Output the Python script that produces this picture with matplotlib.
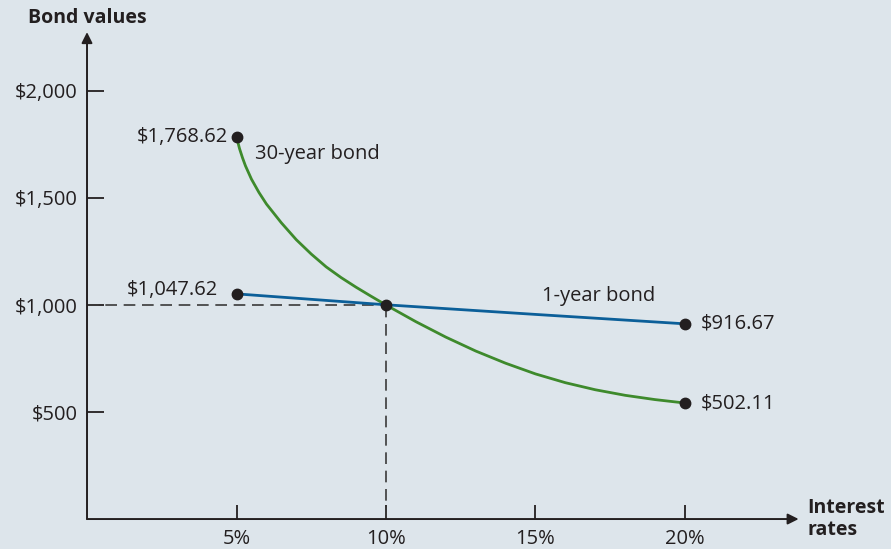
import matplotlib.pyplot as plt

# interest rates (%) and bond values
rates_30y = [5.0, 5.1, 5.2, 5.3, 5.5, 5.75, 6.0, 6.5, 7.0, 7.5,
             8.0, 8.5, 9.0, 9.5, 10.0, 11.0, 12.0, 13.0, 14.0, 15.0, 16.0,
             17.0, 18.0, 19.0, 20.0]
values_30y = [1786, 1731, 1688, 1650, 1588, 1526, 1472, 1384, 1305, 1238,
              1178, 1128, 1083, 1041, 1000, 922, 850, 785, 728, 678, 637,
              604, 578, 558, 542]
rates_1y = [5.0, 10.0, 15.0, 20.0]
values_1y = [1052, 1001, 956, 912]

par_rate = 10.0
par_value = 1000

x_ticks = [5, 10, 15, 20]
x_tick_labels = ["5%", "10%", "15%", "20%"]
y_ticks = [500, 1000, 1500, 2000]
y_tick_labels = ["$500", "$1,000", "$1,500", "$2,000"]

label_30y_start = "$1,768.62"
label_30y_end = "$502.11"
label_1y_start = "$1,047.62"
label_1y_end = "$916.67"

BG = "#dde5eb"
INK = "#231f20"
GREEN = "#3e8a2c"
BLUE = "#0b5f99"
FS = 14.5

plt.rcParams["font.family"] = ["Open Sans", "DejaVu Sans"]

fig = plt.figure(figsize=(8.91, 5.49), dpi=100, facecolor=BG)
ax = fig.add_axes([0, 0, 1, 1], facecolor=BG)
ax.set_xlim(-2.91, 26.89)
ax.set_ylim(-140, 2425)

for side in ["top", "right"]:
    ax.spines[side].set_visible(False)
for side in ["left", "bottom"]:
    ax.spines[side].set_position(("data", 0))
    ax.spines[side].set_color("none")

# axes drawn as arrows
arrow = dict(arrowstyle="-|>", color=INK, lw=1.4, mutation_scale=16,
             shrinkA=0, shrinkB=0)
ax.annotate("", xy=(23.8, 0), xytext=(0, 0), arrowprops=arrow)
ax.annotate("", xy=(0, 2275), xytext=(0, 0), arrowprops=arrow)

ax.set_xticks(x_ticks)
ax.set_xticklabels(x_tick_labels)
ax.set_yticks(y_ticks)
ax.set_yticklabels(y_tick_labels)
ax.tick_params(axis="x", direction="in", length=10, width=1.3, color=INK,
               labelsize=FS, labelcolor=INK, pad=7)
ax.tick_params(axis="y", direction="in", length=12, width=1.3, color=INK,
               labelsize=FS, labelcolor=INK, pad=7)

# reference dashes at par
ax.plot([0, par_rate], [par_value, par_value], ls=(0, (7, 4)), color="#3a3a3a", lw=1.2)
ax.plot([par_rate, par_rate], [0, par_value], ls=(0, (7, 4)), color="#3a3a3a", lw=1.2)

ax.plot(rates_30y, values_30y, color=GREEN, lw=2.0, solid_capstyle="round",
        solid_joinstyle="round")
ax.plot(rates_1y, values_1y, color=BLUE, lw=2.0, solid_capstyle="round")

dots_x = [rates_30y[0], rates_30y[-1], rates_1y[0], rates_1y[-1], par_rate]
dots_y = [values_30y[0], values_30y[-1], values_1y[0], values_1y[-1], par_value]
ax.plot(dots_x, dots_y, "o", color=INK, ms=7.5, zorder=5)

txt = dict(fontsize=FS, color=INK, textcoords="offset pixels", va="center")
ax.annotate(label_30y_start, (rates_30y[0], values_30y[0]), xytext=(-9, 0), ha="right", **txt)
ax.annotate("30-year bond", (rates_30y[0], values_30y[0]), xytext=(18, -17), ha="left", **txt)
ax.annotate(label_1y_start, (rates_1y[0], values_1y[0]), xytext=(-19, 4), ha="right", **txt)
ax.annotate("1-year bond", (rates_1y[0], values_1y[0]), xytext=(305, -2), ha="left", **txt)
ax.annotate(label_1y_end, (rates_1y[-1], values_1y[-1]), xytext=(16, 0), ha="left", **txt)
ax.annotate(label_30y_end, (rates_30y[-1], values_30y[-1]), xytext=(16, 0), ha="left", **txt)

ax.annotate("Bond values", (0, 2275), xytext=(0, 14), textcoords="offset pixels",
            ha="center", va="center", fontsize=14, fontweight="bold", color=INK)
ax.annotate("Interest\nrates", (23.8, 0), xytext=(9, 0), textcoords="offset pixels",
            ha="left", va="center", fontsize=14, fontweight="bold", color=INK,
            linespacing=1.1)

fig.savefig("out.png", dpi=100, facecolor=BG)
